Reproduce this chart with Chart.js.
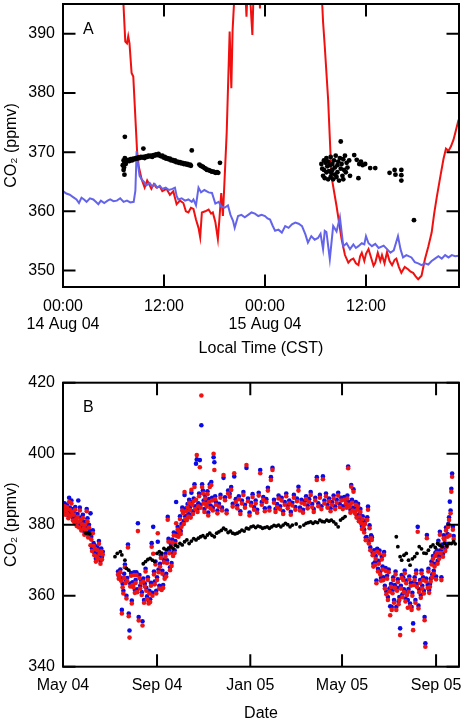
<!DOCTYPE html>
<html><head><meta charset="utf-8">
<script src="https://cdn.jsdelivr.net/npm/chart.js@4.4.1/dist/chart.umd.min.js"></script>
<style>
html,body{margin:0;padding:0;background:#fff;width:468px;height:724px;overflow:hidden}
canvas{display:block;position:absolute;left:0}
#ca{top:0}
#cb{top:362px}
</style></head><body>
<canvas id="ca" width="468" height="362"></canvas>
<canvas id="cb" width="468" height="362"></canvas>
<script>
// ---------- Panel A : hours since 00:00 14 Aug 04 ----------
const hourTicks = [0, 12, 24, 36];
const hourTickLabels = [['00:00', '14 Aug 04'], '12:00', ['00:00', '15 Aug 04'], '12:00'];
const yTicksA = [350, 360, 370, 380, 390];

const redAHours = [
  0,2,4,6,7.0,7.15,7.4,7.6,7.75,7.9,
  8.15,8.35,8.8,9.0,9.35,9.7,10.0,10.3,10.5,10.8,
  11.1,11.5,11.8,12.3,12.7,13.1,13.5,13.9,14.3,14.6,
  14.9,15.2,15.5,15.8,16.1,16.3,16.5,16.9,17.3,17.6,
  17.8,18.1,18.4,18.6,18.8,19.0,19.45,19.8,20.0,20.15,
  20.35,20.6,21.0,21.5,21.8,22.0,22.2,22.5,22.7,23.0,
  23.2,23.4,23.6,24.5,26,28,30,30.7,30.9,31.1,
  31.5,31.9,32.5,33.1,33.5,33.9,34.2,34.5,34.8,35.1,
  35.3,35.5,35.8,36.0,36.3,36.6,36.9,37.1,37.4,37.7,
  37.9,38.2,38.5,38.8,39.1,39.4,39.6,39.9,40.2,40.6,
  41.0,41.3,41.6,41.9,42.2,42.6,43.0,43.4,43.8,44.1,
  44.4,44.8,45.2,45.5,45.8,46.1,46.4,46.7,47.0];
const redAValues = [
  420,425,415,412,410,396,388.7,388.4,389.6,388.4,
  383.4,382.8,370.2,367.6,365.4,364.0,365.2,364.4,363.8,364.6,
  364.0,364.2,363.4,363.8,362.8,363.4,361.2,361.8,361.4,360.0,
  359.8,360.6,360.4,358.6,357.2,355.6,359.8,360.0,360.3,359.6,
  359.8,358.2,355.3,359.0,363.1,359.2,373.3,390.4,380.8,390.6,
  396,405,410,402,392.9,400,397,389.8,400,398,
  404,394.3,402,415,420,418,412,398,392,387.9,
  378.9,365.9,360.9,355.3,352.6,351.3,351.8,352.0,351.2,350.9,
  352.4,353.0,351.6,352.8,353.6,352.2,350.8,351.3,353.0,351.6,
  352.6,351.2,353.1,351.6,350.9,351.8,352.0,350.6,349.6,350.6,
  350.2,349.8,349.6,349.0,348.5,349.1,351.9,354.0,356.4,359.6,
  362.3,365.6,368.8,370.6,370.2,371.0,372.1,373.8,375.5];

const blueAHours = [
  0,0.4,0.8,1.2,1.6,1.9,2.2,2.5,2.8,3.2,
  3.6,3.9,4.2,4.5,4.9,5.3,5.6,6.0,6.4,6.8,
  7.2,7.6,8.0,8.4,8.6,8.75,8.9,9.1,9.35,9.6,
  9.9,10.3,10.6,10.9,11.2,11.5,11.8,12.2,12.6,13.0,
  13.3,13.5,13.7,14.1,14.5,14.9,15.3,15.5,15.8,16.1,
  16.4,16.8,17.3,17.7,18.1,18.5,18.8,19.2,19.6,19.9,
  20.2,20.4,20.8,21.2,21.6,22.0,22.4,22.8,23.2,23.6,
  24.0,24.3,24.6,24.9,25.2,25.6,26.0,26.4,26.8,27.2,
  27.6,28.0,28.4,28.8,29.1,29.5,29.9,30.3,30.6,30.9,
  31.1,31.3,31.7,32.1,32.5,32.9,33.3,33.7,34.1,34.5,
  34.8,35.1,35.5,35.8,36.0,36.3,36.7,37.1,37.5,38.1,
  38.5,38.9,39.3,39.8,40.1,40.4,40.8,41.4,41.8,42.2,
  42.6,43.0,43.4,43.8,44.2,44.6,45.0,45.4,45.8,46.2,
  46.6,47.0];
const blueAValues = [
  363.4,363.0,362.8,362.4,362.0,361.4,362.3,362.0,361.6,362.2,
  362.0,361.6,361.2,361.8,361.4,361.8,362.0,361.7,361.8,362.2,
  361.6,361.8,361.5,361.6,363.5,370.2,368.0,366.0,365.4,365.0,
  364.4,364.8,364.2,364.6,364.0,364.3,363.8,364.0,363.6,363.8,
  364.0,362.6,362.0,362.2,361.8,362.0,361.6,362.0,361.0,364.0,
  363.2,363.6,363.2,363.1,361.3,361.6,360.8,360.6,361.0,359.4,
  358.4,357.2,359.2,359.4,359.0,359.4,359.8,359.6,359.2,359.4,
  359.2,358.8,358.6,357.6,356.7,356.9,356.4,357.5,357.2,357.8,
  358.1,357.9,357.5,356.1,354.7,355.8,355.2,355.5,356.2,353.6,
  356.7,356.5,351.9,357.5,356.6,359.0,354.1,354.6,353.6,354.4,
  353.8,354.1,354.6,354.4,355.8,354.6,354.1,354.5,353.8,354.2,
  353.6,353.0,353.4,355.8,353.6,352.2,352.6,352.2,351.4,351.2,
  350.9,351.2,351.0,351.6,352.0,352.4,352.0,352.6,352.2,352.6,
  352.4,352.5];

const blackAHours = [
  7.1,7.2,7.25,7.3,7.35,7.45,7.6,7.75,7.9,8.05,
  8.2,8.35,8.5,8.65,8.8,8.95,9.1,9.25,9.4,9.55,
  9.7,9.85,10.0,10.15,10.3,10.45,10.6,10.75,10.9,11.05,
  11.2,11.35,11.5,11.65,11.8,11.95,12.1,12.25,12.4,12.55,
  12.7,12.85,13.0,13.15,13.3,13.45,13.6,13.75,13.9,14.05,
  14.2,14.35,14.5,14.65,14.8,14.95,15.1,15.2,
  16.2,16.35,16.5,16.65,16.8,16.95,17.1,17.25,17.4,17.55,
  17.7,17.85,18.0,18.15,18.3,18.45,
  7.35,7.3,7.2,9.55,15.3,18.65,
  30.7,30.8,30.9,31.0,31.0,31.1,31.2,31.3,31.3,31.4,
  31.5,31.5,31.6,31.7,31.8,31.8,31.9,32.0,32.0,32.1,
  32.2,32.3,32.3,32.4,32.5,32.6,32.6,32.7,32.8,32.9,
  33.0,33.0,33.1,33.2,33.3,33.3,33.4,33.5,33.6,33.7,
  33.8,34.0,34.1,34.6,34.9,35.1,35.2,35.4,35.6,35.9,
  36.5,37.1,38.8,39.4,39.5,40.2,40.2,40.2,41.7];
const blackAValues = [
  367.8,368.6,367.4,368.2,369.0,368.0,368.4,368.7,368.5,368.8,
  368.6,368.9,368.8,369.0,368.9,369.1,369.0,369.2,369.1,369.2,
  369.0,369.3,369.2,369.4,369.3,369.4,369.2,369.5,369.4,369.6,
  369.5,369.7,369.4,369.3,369.4,369.1,369.2,368.9,369.0,368.8,
  368.9,368.6,368.7,368.5,368.6,368.3,368.4,368.2,368.3,368.1,
  368.2,368.0,368.1,367.9,368.0,367.8,367.9,367.7,
  367.9,367.7,367.6,367.5,367.3,367.2,367.0,367.0,366.9,366.8,
  366.7,366.7,366.6,366.5,366.6,366.5,
  372.6,366.2,367.0,370.6,370.3,368.2,
  368.0,367.2,366.0,368.6,367.0,365.6,368.2,366.6,369.0,367.6,
  365.4,368.4,366.8,367.8,365.8,369.2,366.4,368.0,367.0,365.4,
  368.6,366.2,367.4,369.4,365.8,367.8,366.6,368.4,365.2,369.0,
  371.8,367.2,368.0,366.0,365.4,368.8,367.0,369.4,366.6,368.2,
  367.4,368.6,366.0,369.5,368.7,365.6,368.0,368.4,367.8,368.0,
  367.3,367.3,366.5,367.0,366.2,367.0,366.1,365.2,358.5];

// ---------- Panel B : days since 1 May 2004 ----------
const dateTicks = [0, 123, 245, 365, 488];
const dateTickLabels = ['May 04', 'Sep 04', 'Jan 05', 'May 05', 'Sep 05'];
const yTicksB = [340, 360, 380, 400, 420];

const sampleDays = [
  0,1,2,3,4,5,6,7,8,9,10,11,12,13,14,15,16,17,18,19,20,21,22,23,24,25,26,
  27,28,29,30,31,32,33,34,35,36,37,38,39,40,41,42,43,44,45,46,47,48,49,50,51,52,
  72,73,74,75,76,77,78,79,80,81,82,83,84,85,86,87,88,89,90,91,92,93,94,95,96,97,
  98,99,100,101,102,103,104,105,106,107,108,109,110,111,112,113,114,115,116,117,
  118,119,120,121,122,123,124,125,126,127,128,129,130,131,132,133,134,135,
  136,137,138,139,140,141,142,143,144,145,146,147,148,149,150,151,152,153,154,155,
  156,157,158,159,160,161,162,163,164,165,166,167,168,169,170,171,172,173,174,175,
  176,177,178,179,180,181,182,183,184,185,186,187,188,189,190,191,192,193,194,195,
  196,197,198,199,200,
  202,204,206,208,210,212,214,216,218,220,222,224,226,228,230,232,234,236,238,240,
  242,244,246,248,250,252,254,256,258,260,262,264,266,268,270,272,274,276,278,280,
  282,284,286,288,290,292,294,296,298,300,302,304,306,308,310,312,314,316,318,320,
  322,324,326,328,330,332,334,336,338,340,342,344,346,348,350,352,354,356,358,360,
  362,364,366,368,
  370,371,372,373,374,375,376,377,378,379,380,381,382,383,384,385,386,387,388,389,
  390,391,392,393,394,395,396,397,398,399,400,401,402,403,404,405,406,407,408,409,
  410,411,412,413,414,415,416,417,418,419,420,
  421,422,423,424,425,426,427,428,429,430,431,432,433,434,435,436,437,438,439,440,
  441,442,443,444,445,446,447,448,449,450,451,452,453,454,455,456,457,458,459,460,
  461,462,463,464,465,466,467,468,469,470,471,472,473,474,475,476,477,478,479,480,
  481,482,483,484,485,486,487,488,489,490,491,492,493,494,495,496,497,498,499,500,
  501,502,503,504,505,506,507,508,509,510,511];

const redValues = [
  383.5,384.6,385.2,382.8,384.0,385.0,383.0,381.8,386.4,384.2,382.5,386.0,383.6,381.2,382.8,380.6,384.2,381.5,379.6,382.2,
  380.8,379.2,384.0,381.3,378.4,380.1,381.9,379.0,377.2,380.0,378.6,383.8,381.0,376.4,379.2,377.4,374.2,375.8,372.6,377.6,
  374.0,371.4,373.2,369.6,371.0,372.8,370.4,374.6,371.8,369.0,372.5,370.2,371.6,
  366.0,364.8,365.4,366.6,364.2,355.0,362.4,360.6,365.0,368.0,363.6,359.2,364.2,373.6,354.2,348.2,362.6,365.6,357.8,363.0,
  362.4,365.8,360.8,363.6,365.8,361.0,378.2,353.0,365.0,362.0,363.6,360.2,351.6,364.0,358.0,362.6,366.8,361.4,359.0,364.4,
  357.8,360.6,358.2,362.8,373.8,360.0,371.8,366.0,363.2,368.8,360.6,364.4,377.6,366.6,362.0,368.2,370.6,361.6,366.2,362.2,
  369.4,364.8,371.0,365.4,
  369.2,381.4,375.2,372.0,367.2,373.8,368.4,375.0,371.2,377.0,372.0,374.6,380.4,376.8,378.6,376.6,378.0,381.6,377.4,379.4,
  384.0,383.2,380.2,389.2,381.6,383.8,381.3,385.0,382.3,386.2,384.1,382.0,389.8,385.6,383.0,386.6,390.6,384.4,387.0,399.6,
  383.6,385.2,388.0,396.2,384.8,416.4,390.6,388.8,386.0,383.6,387.4,385.8,385.1,388.6,382.6,386.4,390.6,384.6,391.2,386.8,
  384.0,400.0,395.4,387.2,385.6,
  383.2,385.1,387.6,384.0,394.0,386.9,383.2,388.8,387.9,389.8,385.1,394.5,386.4,384.6,387.2,383.0,386.0,388.4,384.8,396.8,
  386.6,382.6,385.4,387.8,384.2,386.0,383.4,388.2,394.5,385.6,387.0,383.8,386.4,389.6,384.0,392.6,395.4,386.2,383.6,385.0,
  387.4,384.4,386.8,383.0,385.6,388.0,384.6,386.0,382.8,385.4,387.6,384.2,386.6,389.6,384.0,386.2,383.4,385.8,387.2,384.6,
  386.4,388.4,385.0,383.6,386.8,392.6,385.2,387.6,384.4,392.8,386.0,388.0,384.8,386.6,383.8,385.6,387.4,384.4,386.2,388.2,
  385.0,386.8,384.4,387.0,
  386.0,384.8,387.4,395.9,385.6,385.1,383.4,390.7,386.2,384.0,389.3,383.8,383.2,385.6,382.0,384.2,385.1,381.0,382.3,383.6,
  380.4,378.8,381.6,379.4,377.8,380.2,375.6,375.7,381.3,384.2,374.7,379.0,372.8,376.2,375.7,371.4,368.2,372.0,368.6,370.4,
  363.5,372.4,366.8,369.0,371.9,366.0,364.2,370.2,367.4,364.4,371.5,
  362.0,367.0,360.4,364.8,358.8,366.6,361.2,354.5,362.5,356.0,360.7,364.4,358.0,362.2,366.0,356.0,361.4,363.8,357.6,358.8,
  348.9,362.0,365.0,359.6,364.4,361.0,366.3,358.4,363.5,360.2,356.6,361.1,364.6,357.0,362.8,356.0,360.0,350.3,363.0,364.4,
  358.0,366.3,362.5,378.0,356.4,361.0,363.6,359.4,366.3,362.0,364.4,360.6,353.1,345.6,364.0,376.2,362.2,366.8,360.8,362.5,
  364.0,368.8,365.2,370.4,366.2,368.2,371.2,364.6,372.0,369.0,374.7,370.4,377.2,372.0,364.4,373.6,371.0,376.2,375.7,372.6,
  378.4,373.8,376.6,379.4,381.3,377.0,383.2,389.3,393.5,378.6,376.0];

const blueValues = [
  384.2,385.4,386.0,383.2,385.0,385.6,383.8,382.6,387.6,384.8,383.2,386.8,384.4,382.0,383.6,381.2,385.0,382.4,380.2,383.0,
  386.8,380.0,384.8,382.0,379.2,381.0,382.8,379.8,378.0,380.8,379.4,384.4,381.8,377.2,380.0,378.2,383.2,376.6,373.4,378.4,
  374.8,372.2,374.0,370.4,371.8,373.6,371.2,375.4,372.6,369.8,373.3,371.0,372.4,
  366.8,365.6,366.8,367.4,365.0,356.0,363.4,361.4,366.2,368.8,364.4,360.0,365.0,374.4,355.0,350.2,363.4,366.4,358.6,363.8,
  363.2,366.6,361.6,364.4,366.6,361.8,380.4,354.0,365.8,362.8,364.4,361.0,352.8,364.8,358.8,363.4,367.6,362.2,359.8,365.2,
  358.6,361.4,359.0,363.6,374.8,360.8,379.4,366.8,364.0,369.6,361.4,365.2,375.2,367.4,362.8,369.0,371.4,362.4,367.0,363.0,
  370.2,365.6,371.8,366.2,
  370.0,382.2,376.0,372.8,368.0,374.6,369.2,375.8,372.0,377.8,372.8,375.4,386.4,377.6,379.4,377.4,378.8,382.4,378.2,380.2,
  384.8,384.0,381.0,388.4,382.4,384.6,382.0,385.8,383.0,387.0,384.9,382.8,389.0,386.4,383.8,387.4,391.4,385.2,397.2,398.4,
  384.4,386.0,388.8,398.2,385.6,408.0,391.4,389.6,386.8,384.4,388.2,386.6,385.9,389.4,383.4,387.2,391.4,385.4,392.0,387.6,
  384.8,399.0,397.6,388.0,386.4,
  384.0,385.9,388.4,384.8,393.2,387.7,384.0,389.6,388.7,390.6,385.9,393.6,387.2,385.4,388.0,383.8,386.8,389.2,385.6,396.0,
  387.4,383.4,386.2,388.6,385.0,386.8,384.2,389.0,395.4,386.4,387.8,384.6,387.2,390.4,384.8,393.4,396.0,387.0,384.4,385.8,
  388.2,385.2,387.6,383.8,386.4,388.8,385.4,386.8,383.6,386.2,388.4,385.0,387.4,390.7,384.8,387.0,384.2,386.6,388.0,385.4,
  387.2,389.2,385.8,384.4,387.6,393.4,386.0,388.4,385.2,393.6,386.8,388.8,385.6,387.4,384.6,386.4,388.2,385.2,387.0,389.0,
  385.8,387.6,385.2,387.8,
  386.8,385.6,388.2,396.4,386.4,385.9,384.2,391.2,387.0,384.8,390.0,384.6,384.0,386.4,382.8,385.0,385.9,381.8,383.1,384.4,
  381.2,379.6,382.4,380.2,378.6,381.0,376.4,376.5,382.1,385.1,375.5,379.8,373.6,377.0,376.5,372.2,369.0,372.8,369.4,371.2,
  364.3,373.2,367.6,369.8,372.7,366.8,365.0,371.0,368.2,365.2,372.3,
  362.8,367.8,361.2,365.6,359.6,367.4,362.0,357.0,363.3,356.8,361.5,365.2,358.8,363.0,366.8,356.8,362.2,364.6,358.4,359.6,
  350.8,362.8,365.8,360.4,365.2,361.8,367.1,359.2,364.3,361.0,358.8,361.9,365.4,357.8,363.6,356.8,360.8,352.2,363.8,365.2,
  358.8,367.1,363.3,379.4,357.2,361.8,364.4,360.2,367.1,362.8,365.2,361.4,354.0,346.6,364.8,377.1,363.0,367.6,361.6,363.3,
  364.8,369.6,366.0,371.2,367.0,369.0,372.0,365.4,372.8,369.8,375.5,371.2,378.0,372.8,365.2,374.4,371.8,377.0,376.5,373.4,
  379.2,374.6,377.4,380.2,382.1,386.5,384.0,390.1,394.4,379.4,376.8];

const blackDays = [
  30,33,35,68,71,75,77,81,83,86,
  105,108,111,114,117,120,123,126,129,132,
  135,138,141,144,147,150,153,156,159,162,
  165,168,171,174,177,180,183,186,189,192,
  195,198,201,204,207,210,213,216,219,222,
  225,228,231,234,237,240,243,246,249,252,
  255,258,261,264,267,270,273,276,279,282,
  285,288,291,294,297,300,305,310,315,318,
  321,324,327,330,333,336,339,342,345,348,
  351,354,357,360,363,366,369,
  436,438,441,443,446,449,452,454,457,
  460,463,466,469,472,475,478,481,484,487,
  490,493,496,499,502,505,508,511,513];
const blackValues = [
  377.6,377.7,377.4,371.0,371.9,372.4,371.5,370.0,367.7,367.2,
  369.0,369.6,370.2,370.5,370.0,369.6,371.9,372.4,372.0,373.3,
  372.9,373.4,373.8,373.3,374.2,373.8,374.7,374.3,375.2,375.7,
  374.7,375.4,376.1,375.7,376.2,376.6,376.9,376.4,377.1,377.6,
  377.0,376.6,377.6,378.0,378.4,379.0,378.6,377.8,378.2,377.6,
  377.4,377.6,378.0,378.5,378.2,379.0,378.8,379.4,379.6,379.2,
  379.6,379.4,379.0,379.2,379.4,379.0,379.4,379.8,379.6,379.9,
  379.4,379.9,380.4,380.0,379.4,379.9,380.2,379.4,379.9,380.4,
  380.6,380.8,380.4,380.8,380.6,381.3,380.9,380.8,381.3,381.0,
  381.3,380.8,380.2,379.4,381.3,381.8,382.3,
  376.6,373.8,371.0,370.0,371.4,371.9,370.0,368.6,370.4,
  371.0,371.9,373.8,373.2,372.0,371.9,372.8,373.8,374.3,373.6,
  374.7,374.2,373.8,374.7,374.0,374.7,374.7,375.2,374.6];

// ---------- helpers ----------
function pts(xs, ys) {
  const n = Math.min(xs.length, ys.length);
  const out = [];
  for (let i = 0; i < n; i++) out.push({x: xs[i], y: ys[i]});
  return out;
}
const FONT = '"Liberation Sans", Arial, Helvetica, sans-serif';
Chart.defaults.font.family = FONT;
Chart.defaults.font.size = 16;
Chart.defaults.color = '#000';

const frameTicks = {
  id: 'frameTicks',
  afterDatasetsDraw(chart, args, opts) {
    const {ctx, chartArea: a, scales} = chart;
    const L = 12.5;
    ctx.save();
    ctx.strokeStyle = '#000';
    ctx.lineWidth = 2;
    ctx.beginPath();
    scales.x.ticks.forEach(t => {
      const px = scales.x.getPixelForValue(t.value);
      ctx.moveTo(px, a.bottom); ctx.lineTo(px, a.bottom - L);
      ctx.moveTo(px, a.top); ctx.lineTo(px, a.top + L);
    });
    scales.y.ticks.forEach(t => {
      const py = scales.y.getPixelForValue(t.value);
      ctx.moveTo(a.left, py); ctx.lineTo(a.left + L, py);
      ctx.moveTo(a.right, py); ctx.lineTo(a.right - L, py);
    });
    ctx.stroke();
    ctx.strokeRect(a.left, a.top, a.right - a.left, a.bottom - a.top);
    ctx.fillStyle = '#000';
    ctx.font = '16px ' + FONT;
    ctx.textAlign = 'left';
    ctx.textBaseline = 'middle';
    ctx.fillText(opts.label, a.left + 20, a.top + opts.dy);
    ctx.restore();
  }
};

function axisX(min, max, ticksArr, labelsArr, height, title, pad, lh, titlePad) {
  return {
    type: 'linear', min: min, max: max, bounds: 'data',
    afterBuildTicks: s => { s.ticks = ticksArr.map(v => ({value: v})); },
    afterFit: s => { s.height = height; s.paddingLeft = 0; s.paddingRight = 0; },
    ticks: {autoSkip: false, maxRotation: 0, minRotation: 0, padding: pad, color: '#000',
      font: {size: 16, lineHeight: lh}, callback: (v, i) => labelsArr[i]},
    grid: {display: false, drawTicks: false}, border: {display: false},
    title: {display: true, text: title, color: '#000', font: {size: 16}, padding: {top: 0, bottom: titlePad}}
  };
}
function axisY(min, max, ticksArr) {
  return {
    type: 'linear', min: min, max: max, bounds: 'data',
    afterBuildTicks: s => { s.ticks = ticksArr.map(v => ({value: v})); },
    afterFit: s => { s.width = 63; s.paddingTop = 0; s.paddingBottom = 0; },
    ticks: {padding: 8, color: '#000', font: {size: 16}, callback: v => String(v)},
    grid: {display: false, drawTicks: false}, border: {display: false},
    title: {display: true, text: 'CO\u2082 (ppmv)', color: '#000', font: {size: 16}, padding: {top: 2, bottom: 0}}
  };
}

new Chart(document.getElementById('ca'), {
  type: 'scatter',
  data: {datasets: [
    {data: pts(blackAHours, blackAValues), order: 0, showLine: false,
     pointRadius: 2.4, pointBorderWidth: 0, backgroundColor: '#000', borderColor: '#000'},
    {data: pts(blueAHours, blueAValues), order: 1, showLine: true, pointRadius: 0,
     borderColor: 'rgb(100,100,235)', borderWidth: 2, tension: 0},
    {data: pts(redAHours, redAValues), order: 2, showLine: true, pointRadius: 0,
     borderColor: 'rgb(240,16,16)', borderWidth: 2, tension: 0}
  ]},
  options: {
    responsive: false, animation: false, devicePixelRatio: 1,
    layout: {padding: {top: 4, left: 0, right: 9, bottom: 0}},
    plugins: {legend: {display: false}, tooltip: {enabled: false}, frameTicks: {label: 'A', dy: 26}},
    scales: {
      x: axisX(0, 47.05, hourTicks, hourTickLabels, 75, 'Local Time (CST)', 11, 1.1, 4),
      y: axisY(347.2, 395.05, yTicksA)
    }
  },
  plugins: [frameTicks]
});

new Chart(document.getElementById('cb'), {
  type: 'scatter',
  data: {datasets: [
    {data: pts(blackDays, blackValues), order: 0, pointRadius: 1.9, pointBorderWidth: 0,
     backgroundColor: '#000', borderColor: '#000'},
    {data: pts(sampleDays, redValues), order: 1, pointRadius: 2.3, pointBorderWidth: 0,
     backgroundColor: 'rgb(238,20,20)', borderColor: 'rgb(238,20,20)'},
    {data: pts(sampleDays, blueValues), order: 2, pointRadius: 2.3, pointBorderWidth: 0,
     backgroundColor: 'rgb(10,10,230)', borderColor: 'rgb(10,10,230)'}
  ]},
  options: {
    responsive: false, animation: false, devicePixelRatio: 1,
    layout: {padding: {top: 20.7, left: 0, right: 9, bottom: 0}},
    plugins: {legend: {display: false}, tooltip: {enabled: false}, frameTicks: {label: 'B', dy: 24.5}},
    scales: {
      x: axisX(0, 518, dateTicks, dateTickLabels, 57.3, 'Date', 9, 1.2, 1),
      y: axisY(340, 420, yTicksB)
    }
  },
  plugins: [frameTicks]
});
</script>
</body></html>
